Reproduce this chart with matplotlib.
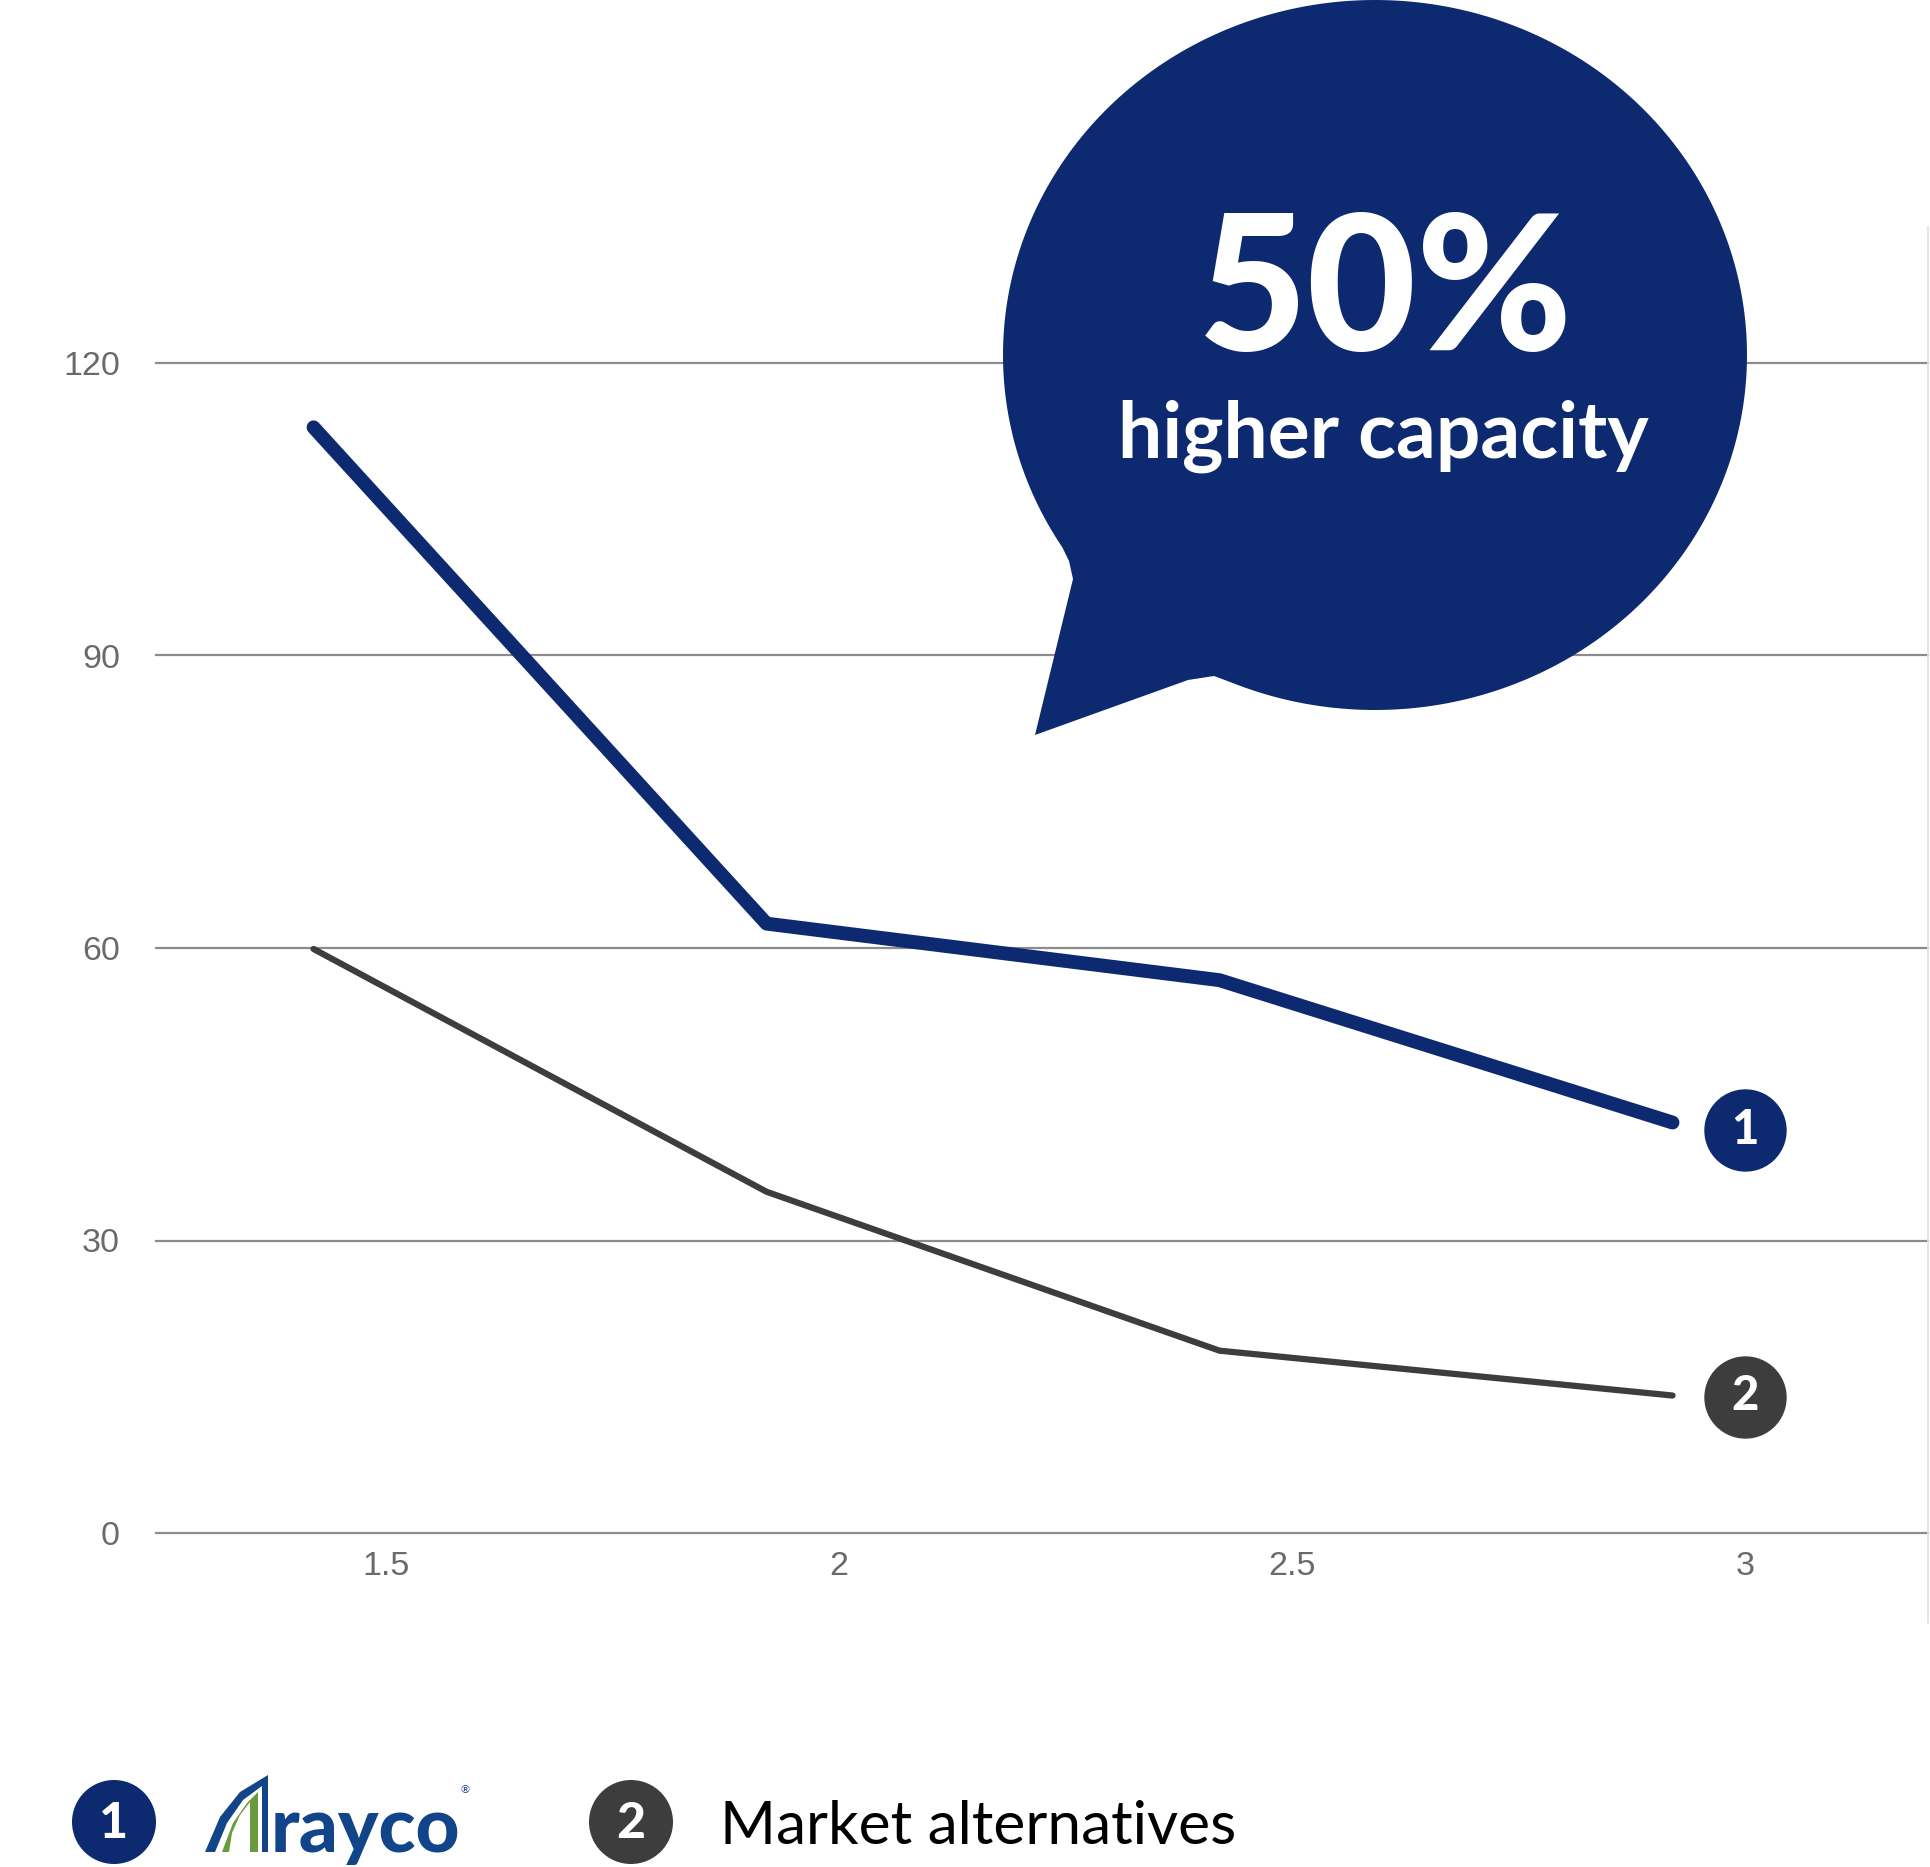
import numpy as np
import matplotlib.pyplot as plt
from matplotlib.patches import Polygon, Circle
from matplotlib.lines import Line2D

# data
x_vals = [1.42, 1.92, 2.42, 2.92]
arrayco = [113.4, 62.5, 56.7, 42.1]
market = [59.9, 35.0, 18.7, 14.1]
y_ticks = [0, 30, 60, 90, 120]
x_ticks = [1.5, 2, 2.5, 3]
x_tick_labels = ['1.5', '2', '2.5', '3']
series_names = ['rayco', 'Market alternatives']

NAVY = '#0d2a70'
DARK = '#3d3d3d'
GRID = '#8c8c8c'
TICK = '#6a6a6a'

W, H = 1930, 1867
fig = plt.figure(figsize=(W / 100, H / 100), dpi=100)
fig.patch.set_facecolor('white')

# 0 line at pixel 1533, 9.75 px per unit
ax = fig.add_axes([156 / W, (H - 1533) / H, (1928 - 156) / W, 125 * 9.75 / H])
ax.set_xlim(1.2461, 3.202)
ax.set_ylim(0, 125)
for s in ax.spines.values():
    s.set_visible(False)
ax.set_yticks(y_ticks)
ax.set_xticks(x_ticks)
ax.set_xticklabels(x_tick_labels)
for lab in ax.get_xticklabels() + ax.get_yticklabels():
    lab.set_family(['Liberation Sans', 'DejaVu Sans'])
ax.tick_params(axis='both', length=0, labelsize=24.5, colors=TICK)
ax.tick_params(axis='x', pad=13)
ax.tick_params(axis='y', pad=26)
for v in y_ticks:
    ax.axhline(v, color=GRID, lw=1.6, zorder=1, clip_on=False)

ax.plot(x_vals, arrayco, color=NAVY, lw=10, solid_capstyle='round', zorder=3)
ax.plot(x_vals, market, color=DARK, lw=4.5, solid_capstyle='round', zorder=3)

# numbered end markers
end_x = 3.0
for yv, col, num in [(arrayco[-1] - 0.8, NAVY, '1'), (market[-1] - 0.1, DARK, '2')]:
    ax.scatter([end_x], [yv], s=3400, color=col, zorder=4, clip_on=False)
    ax.text(end_x, yv, num, color='white', fontsize=34, fontweight='black',
            family='Lato', ha='center', va='center', zorder=5)

# overlay in pixel coords for bubble and footer
ov = fig.add_axes([0, 0, 1, 1], zorder=5)
ov.set_xlim(0, W)
ov.set_ylim(H, 0)
ov.axis('off')

ov.add_line(Line2D([1928, 1928], [227, 1623], color='#e0e0e0', lw=1.2))

# speech bubble: ellipse outline with the tail spliced in
cx, cy, rx, ry = 1375, 355, 372, 355
t = np.radians(np.linspace(147.2, 472.6, 300))
outline = list(zip(cx + rx * np.cos(t), cy + ry * np.sin(t)))
outline += [(1214, 676), (1188, 680), (1035, 735), (1073, 579), (1069, 561)]
ov.add_patch(Polygon(outline, closed=True, color=NAVY, lw=0))
ov.text(1385, 295, '50%', color='white', fontsize=136, fontweight='black',
        family='Lato', ha='center', va='center')
ov.text(1383, 458, 'higher capacity', color='white', fontsize=56.5,
        fontweight='bold', family='Lato', ha='center', va='baseline')

# footer legend
for fx, col, num in [(114, NAVY, '1'), (631, DARK, '2')]:
    ov.add_patch(Circle((fx, 1822), 42, color=col, lw=0))
    ov.text(fx, 1823, num, color='white', fontsize=36, fontweight='black',
            family='Lato', ha='center', va='center')

# logo mark
ov.add_patch(Polygon([(205, 1852), (220, 1817), (240, 1792), (268, 1775),
                      (268, 1852), (262, 1852), (262, 1786), (243, 1800),
                      (227, 1823), (215, 1852)], closed=True, color='#114488', lw=0))
ov.add_patch(Polygon([(222, 1852), (233, 1823), (247, 1803), (258, 1792),
                      (258, 1852), (250, 1852), (250, 1802), (240, 1815),
                      (232, 1833), (229, 1852)], closed=True, color='#6a9a3f', lw=0))
ov.text(271, 1852, series_names[0], color='#114488', fontsize=55,
        fontweight='black', family='Lato', ha='left', va='baseline')
ov.text(465, 1790, '®', color='#114488', fontsize=8, family='DejaVu Sans',
        ha='center', va='center')
ov.text(720, 1844, series_names[1], color='black', fontsize=43.5,
        family='Lato', ha='left', va='baseline')

fig.savefig('out.png', dpi=100, facecolor='white')
